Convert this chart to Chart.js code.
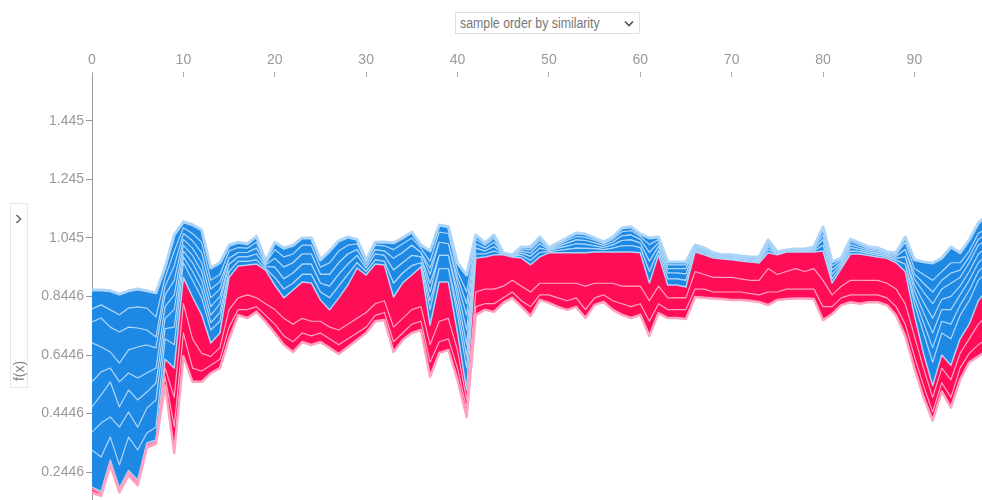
<!DOCTYPE html>
<html>
<head>
<meta charset="utf-8">
<script src="https://cdn.jsdelivr.net/npm/chart.js@4.4.1/dist/chart.umd.min.js"></script>
<style>
  body { margin: 0; background: #fff; }
  #wrap { position: relative; width: 982px; height: 500px; overflow: hidden; }
  #forceChart { position: absolute; left: 0; top: 0; }
  .order-select {
    position: absolute; left: 455px; top: 12px; width: 185px; height: 22px;
    border: 1px solid #e0e0e0; box-sizing: border-box; background: #fff;
    font-family: "Liberation Sans", Arial, sans-serif; font-size: 14px;
    color: #777; line-height: 20px; padding-left: 4px;
  }
  .order-select span { display: inline-block; transform: scaleX(0.88); transform-origin: left center; white-space: nowrap; }
  .order-select svg { position: absolute; right: 5px; top: 7px; }
  .side-panel {
    position: absolute; left: 10px; top: 203px; width: 18px; height: 185px;
    border: 1px solid #e6e6e6; box-sizing: border-box; background: #fff;
  }
  .side-panel svg { position: absolute; left: 4px; top: 10px; }
  .side-panel .fx-label {
    position: absolute; left: -9px; top: 159px; width: 34px; text-align: center;
    transform: rotate(-90deg);
    font-family: "Liberation Sans", Arial, sans-serif; font-size: 14px; color: #888;
  }
</style>
</head>
<body>
<div id="wrap">
  <canvas id="forceChart" width="982" height="500"></canvas>
  <div class="order-select"><span>sample order by similarity</span>
    <svg width="10" height="8" viewBox="0 0 10 8"><polyline points="1,1.5 5,5.5 9,1.5" fill="none" stroke="#555" stroke-width="1.6"/></svg>
  </div>
  <div class="side-panel">
    <svg width="8" height="10" viewBox="0 0 8 10"><polyline points="1.5,1 5.5,5 1.5,9" fill="none" stroke="#666" stroke-width="1.5"/></svg>
    <div class="fx-label">f(x)</div>
  </div>
</div>
<script>
const xTickValues = [0, 10, 20, 30, 40, 50, 60, 70, 80, 90];
const yTickValues = [0.2446, 0.4446, 0.6446, 0.8446, 1.045, 1.245, 1.445];
const yTickLabels = ["0.2446", "0.4446", "0.6446", "0.8446", "1.045", "1.245", "1.445"];

// lowest edge of the red (positive) stack
const redBottom = [
  0.172, 0.163, 0.268, 0.175, 0.233, 0.199, 0.328, 0.341, 0.54, 0.31,
  0.64, 0.553, 0.553, 0.583, 0.60, 0.70, 0.781, 0.771, 0.792, 0.758,
  0.72, 0.679, 0.655, 0.689, 0.679, 0.689, 0.669, 0.648, 0.672, 0.696,
  0.72, 0.76, 0.764, 0.655, 0.696, 0.72, 0.73, 0.57, 0.652, 0.662,
  0.559, 0.433, 0.782, 0.799, 0.792, 0.823, 0.84, 0.809, 0.778, 0.833,
  0.823, 0.809, 0.799, 0.809, 0.771, 0.816, 0.826, 0.799, 0.782, 0.771,
  0.782, 0.71, 0.788, 0.771, 0.771, 0.768, 0.843, 0.84, 0.838, 0.836,
  0.833, 0.833, 0.83, 0.826, 0.815, 0.833, 0.836, 0.838, 0.838, 0.836,
  0.764, 0.785, 0.815, 0.825, 0.82, 0.825, 0.825, 0.815, 0.78, 0.71,
  0.60, 0.50, 0.42, 0.52, 0.465, 0.56, 0.62, 0.64, 0.66
];
const redLine1 = [
  0.178, 0.168, 0.273, 0.180, 0.238, 0.205, 0.333, 0.345, 0.57, 0.40,
  0.72, 0.60, 0.59, 0.61, 0.63, 0.74, 0.80, 0.80, 0.81, 0.78,
  0.75, 0.71, 0.69, 0.72, 0.71, 0.72, 0.70, 0.68, 0.70, 0.72,
  0.74, 0.78, 0.79, 0.69, 0.72, 0.75, 0.76, 0.62, 0.69, 0.70,
  0.60, 0.46, 0.81, 0.82, 0.82, 0.84, 0.86, 0.83, 0.81, 0.85,
  0.85, 0.84, 0.83, 0.84, 0.80, 0.84, 0.85, 0.83, 0.82, 0.81,
  0.82, 0.76, 0.82, 0.80, 0.80, 0.80, 0.87, 0.87, 0.86, 0.86,
  0.86, 0.86, 0.855, 0.85, 0.86, 0.86, 0.87, 0.87, 0.87, 0.87,
  0.81, 0.81, 0.84, 0.85, 0.85, 0.85, 0.85, 0.84, 0.81, 0.75,
  0.64, 0.54, 0.45, 0.55, 0.50, 0.60, 0.65, 0.68, 0.70
];
const redLine2 = [
  0.186, 0.173, 0.279, 0.185, 0.244, 0.211, 0.338, 0.350, 0.60, 0.50,
  0.82, 0.70, 0.65, 0.64, 0.67, 0.80, 0.84, 0.85, 0.84, 0.82,
  0.80, 0.77, 0.75, 0.77, 0.76, 0.76, 0.74, 0.73, 0.75, 0.77,
  0.79, 0.82, 0.83, 0.74, 0.77, 0.80, 0.81, 0.68, 0.76, 0.77,
  0.66, 0.49, 0.86, 0.87, 0.87, 0.88, 0.90, 0.88, 0.86, 0.89,
  0.89, 0.89, 0.89, 0.89, 0.88, 0.89, 0.89, 0.89, 0.88, 0.88,
  0.88, 0.83, 0.88, 0.84, 0.84, 0.84, 0.93, 0.92, 0.91, 0.91,
  0.91, 0.905, 0.90, 0.90, 0.94, 0.92, 0.93, 0.94, 0.93, 0.94,
  0.90, 0.85, 0.88, 0.90, 0.90, 0.90, 0.90, 0.89, 0.87, 0.82,
  0.71, 0.60, 0.50, 0.60, 0.56, 0.65, 0.70, 0.75, 0.78
];
// model output f(x): border between the red and blue stacks
const outputValues = [
  0.193, 0.178, 0.285, 0.190, 0.250, 0.217, 0.344, 0.354, 0.63, 0.60,
  0.91, 0.843, 0.782, 0.686, 0.72, 0.91, 0.949, 0.952, 0.956, 0.935,
  0.884, 0.84, 0.867, 0.894, 0.891, 0.833, 0.799, 0.84, 0.884, 0.942,
  0.918, 0.956, 0.952, 0.843, 0.891, 0.918, 0.946, 0.747, 0.894, 0.894,
  0.72, 0.525, 0.976, 0.98, 0.987, 0.987, 0.98, 0.976, 0.953, 0.98,
  0.994, 0.994, 0.994, 0.994, 0.994, 0.997, 0.997, 0.997, 0.997, 0.997,
  0.994, 0.891, 0.987, 0.884, 0.884, 0.877, 0.997, 0.987, 0.976, 0.973,
  0.97, 0.966, 0.963, 0.959, 0.994, 0.987, 0.997, 0.997, 0.997, 0.997,
  1.0, 0.891, 0.94, 0.99, 0.99, 0.985, 0.98, 0.975, 0.96, 0.93,
  0.78, 0.65, 0.54, 0.645, 0.61, 0.70, 0.75, 0.83, 0.87
];
const blueLine1 = [
  0.320, 0.296, 0.364, 0.269, 0.364, 0.320, 0.378, 0.398, 0.70, 0.68,
  0.96, 0.90, 0.84, 0.73, 0.76, 0.93, 0.965, 0.965, 0.97, 0.94,
  0.91, 0.87, 0.89, 0.92, 0.92, 0.86, 0.84, 0.88, 0.92, 0.96,
  0.93, 0.97, 0.965, 0.89, 0.925, 0.95, 0.96, 0.80, 0.94, 0.94,
  0.78, 0.60, 0.99, 0.99, 1.0, 0.989, 0.982, 0.985, 0.968, 0.995,
  0.998, 1.002, 1.006, 1.01, 1.009, 1.008, 1.005, 1.01, 1.018, 1.019,
  1.012, 0.93, 1.002, 0.905, 0.905, 0.90, 1.001, 0.99, 0.98, 0.976,
  0.973, 0.97, 0.966, 0.963, 1.005, 0.989, 0.998, 0.999, 0.999, 1.0,
  1.02, 0.905, 0.948, 1.0, 0.998, 0.991, 0.986, 0.98, 0.968, 0.955,
  0.82, 0.72, 0.62, 0.72, 0.70, 0.78, 0.83, 0.90, 0.93
];
const blueLine1b = [
  0.381, 0.412, 0.433, 0.398, 0.450, 0.398, 0.463, 0.491, 0.735, 0.74,
  0.98, 0.93, 0.87, 0.755, 0.79, 0.93, 0.965, 0.965, 0.97, 0.94,
  0.91, 0.87, 0.89, 0.92, 0.92, 0.86, 0.84, 0.88, 0.92, 0.96,
  0.93, 0.97, 0.965, 0.89, 0.925, 0.95, 0.96, 0.83, 0.94, 0.94,
  0.81, 0.64, 0.99, 0.99, 1.0, 0.989, 0.982, 0.985, 0.968, 0.995,
  0.998, 1.002, 1.006, 1.01, 1.009, 1.008, 1.005, 1.01, 1.018, 1.019,
  1.012, 0.93, 1.002, 0.905, 0.905, 0.90, 1.001, 0.99, 0.98, 0.976,
  0.973, 0.97, 0.966, 0.963, 1.005, 0.989, 0.998, 0.999, 0.999, 1.0,
  1.02, 0.905, 0.948, 1.0, 0.998, 0.991, 0.986, 0.98, 0.968, 0.955,
  0.842, 0.755, 0.67, 0.76, 0.75, 0.815, 0.865, 0.93, 0.96
];
const blueLine2 = [
  0.467, 0.508, 0.553, 0.467, 0.525, 0.491, 0.518, 0.549, 0.77, 0.80,
  1.00, 0.96, 0.90, 0.78, 0.82, 0.955, 0.98, 0.98, 0.99, 0.947,
  0.945, 0.905, 0.925, 0.955, 0.955, 0.89, 0.88, 0.92, 0.955, 0.985,
  0.942, 0.99, 0.985, 0.935, 0.96, 0.985, 0.98, 0.86, 0.985, 0.985,
  0.84, 0.68, 1.01, 1.0, 1.015, 0.99, 0.983, 0.993, 0.982, 1.01,
  1.002, 1.01, 1.017, 1.025, 1.023, 1.018, 1.012, 1.021, 1.036, 1.038,
  1.027, 0.965, 1.016, 0.925, 0.925, 0.922, 1.005, 0.995, 0.983, 0.978,
  0.976, 0.973, 0.969, 0.967, 1.015, 0.991, 0.999, 1.001, 1.001, 1.004,
  1.04, 0.92, 0.955, 1.012, 1.005, 0.997, 0.992, 0.985, 0.975, 0.98,
  0.865, 0.79, 0.72, 0.80, 0.80, 0.85, 0.90, 0.96, 0.99
];
const blueLine2b = [
  0.553, 0.587, 0.600, 0.553, 0.583, 0.566, 0.583, 0.600, 0.81, 0.85,
  1.02, 0.985, 0.93, 0.81, 0.845, 0.955, 0.98, 0.98, 0.99, 0.947,
  0.945, 0.905, 0.925, 0.955, 0.955, 0.89, 0.88, 0.92, 0.955, 0.985,
  0.942, 0.99, 0.985, 0.935, 0.96, 0.985, 0.98, 0.89, 0.985, 0.985,
  0.865, 0.73, 1.01, 1.0, 1.015, 0.99, 0.983, 0.993, 0.982, 1.01,
  1.002, 1.01, 1.017, 1.025, 1.023, 1.018, 1.012, 1.021, 1.036, 1.038,
  1.027, 0.965, 1.016, 0.925, 0.925, 0.922, 1.005, 0.995, 0.983, 0.978,
  0.976, 0.973, 0.969, 0.967, 1.015, 0.991, 0.999, 1.001, 1.001, 1.004,
  1.04, 0.92, 0.955, 1.012, 1.005, 0.997, 0.992, 0.985, 0.975, 0.98,
  0.885, 0.825, 0.77, 0.835, 0.845, 0.88, 0.93, 0.99, 1.015
];
const blueLine3 = [
  0.686, 0.672, 0.655, 0.617, 0.662, 0.672, 0.679, 0.669, 0.85, 0.90,
  1.04, 1.01, 0.96, 0.84, 0.87, 0.975, 0.995, 0.995, 1.01, 0.953,
  0.975, 0.945, 0.96, 0.99, 0.99, 0.92, 0.92, 0.96, 0.99, 1.005,
  0.952, 1.005, 1.0, 0.975, 0.995, 1.02, 0.995, 0.92, 1.03, 1.025,
  0.89, 0.78, 1.025, 1.01, 1.03, 0.991, 0.985, 1.0, 0.994, 1.025,
  1.005, 1.016, 1.027, 1.038, 1.036, 1.028, 1.019, 1.031, 1.052, 1.055,
  1.04, 0.995, 1.028, 0.94, 0.94, 0.94, 1.01, 1.0, 0.987, 0.981,
  0.979, 0.976, 0.972, 0.971, 1.023, 0.993, 1.0, 1.003, 1.003, 1.008,
  1.055, 0.935, 0.962, 1.022, 1.012, 1.003, 0.998, 0.989, 0.982, 1.005,
  0.905, 0.86, 0.82, 0.87, 0.89, 0.91, 0.96, 1.02, 1.04
];
const blueLine3b = [
  0.758, 0.771, 0.740, 0.723, 0.740, 0.737, 0.730, 0.706, 0.88, 0.95,
  1.06, 1.035, 0.995, 0.87, 0.895, 0.975, 0.995, 0.995, 1.01, 0.953,
  0.975, 0.945, 0.96, 0.99, 0.99, 0.92, 0.92, 0.96, 0.99, 1.005,
  0.952, 1.005, 1.0, 0.975, 0.995, 1.02, 0.995, 0.942, 1.03, 1.025,
  0.91, 0.82, 1.025, 1.01, 1.03, 0.991, 0.985, 1.0, 0.994, 1.025,
  1.005, 1.016, 1.027, 1.038, 1.036, 1.028, 1.019, 1.031, 1.052, 1.055,
  1.04, 0.995, 1.028, 0.94, 0.94, 0.94, 1.01, 1.0, 0.987, 0.981,
  0.979, 0.976, 0.972, 0.971, 1.023, 0.993, 1.0, 1.003, 1.003, 1.008,
  1.055, 0.935, 0.962, 1.022, 1.012, 1.003, 0.998, 0.989, 0.982, 1.005,
  0.922, 0.89, 0.86, 0.90, 0.925, 0.935, 0.98, 1.04, 1.06
];
const blueLine4 = [
  0.802, 0.816, 0.799, 0.782, 0.805, 0.809, 0.805, 0.775, 0.91, 1.00,
  1.08, 1.06, 1.03, 0.90, 0.92, 1.00, 1.012, 1.01, 1.03, 0.958,
  1.005, 0.98, 0.99, 1.02, 1.02, 0.945, 0.96, 1.00, 1.02, 1.025,
  0.962, 1.02, 1.018, 1.005, 1.025, 1.045, 1.01, 0.965, 1.065, 1.06,
  0.93, 0.86, 1.04, 1.02, 1.043, 0.992, 0.986, 1.007, 1.004, 1.037,
  1.008, 1.022, 1.036, 1.05, 1.047, 1.037, 1.025, 1.04, 1.066, 1.07,
  1.05, 1.022, 1.039, 0.953, 0.953, 0.953, 1.015, 1.005, 0.99, 0.984,
  0.983, 0.979, 0.976, 0.975, 1.03, 0.995, 1.002, 1.005, 1.005, 1.011,
  1.07, 0.95, 0.969, 1.032, 1.02, 1.008, 1.004, 0.993, 0.988, 1.03,
  0.94, 0.92, 0.90, 0.93, 0.96, 0.96, 1.00, 1.06, 1.08
];
// highest edge of the blue (negative) stack
const blueTop = [
  0.867, 0.867, 0.864, 0.853, 0.864, 0.870, 0.864, 0.857, 0.945, 1.055,
  1.10, 1.09, 1.072, 0.942, 0.96, 1.02, 1.03, 1.025, 1.05, 0.965,
  1.03, 1.01, 1.02, 1.045, 1.045, 0.97, 1.00, 1.035, 1.048, 1.04,
  0.97, 1.03, 1.031, 1.028, 1.045, 1.065, 1.021, 1.00, 1.089, 1.083,
  0.959, 0.918, 1.055, 1.028, 1.055, 0.994, 0.987, 1.014, 1.014, 1.048,
  1.011, 1.028, 1.045, 1.062, 1.058, 1.045, 1.031, 1.048, 1.079, 1.083,
  1.058, 1.045, 1.048, 0.963, 0.963, 0.963, 1.021, 1.011, 0.994, 0.987,
  0.987, 0.983, 0.98, 0.98, 1.038, 0.997, 1.004, 1.007, 1.007, 1.014,
  1.083, 0.963, 0.976, 1.041, 1.028, 1.014, 1.011, 0.997, 0.994, 1.048,
  0.97, 0.963, 0.959, 0.976, 1.014, 0.994, 1.038, 1.096, 1.123
];

const RED = "#ff0d57";
const BLUE = "#1e88e5";
const RED_LINE = "#ffa3c0";
const BLUE_LINE = "#acd5f8";
const AXIS_GRAY = "#999";
const TICK_FONT = { family: '"Liberation Sans", Arial, sans-serif', size: 14 };

function toPoints(values) {
  return values.map((v, i) => ({ x: i, y: v }));
}

function layer(values, fillColor, lineColor, lineWidth) {
  return {
    data: toPoints(values),
    borderColor: lineColor,
    borderWidth: lineWidth,
    backgroundColor: fillColor,
    fill: fillColor ? "-1" : false,
    pointRadius: 0,
    tension: 0,
    borderJoinStyle: "round",
  };
}

// stacked from the bottom edge upwards, each one filled down to the previous
const datasets = [
  layer(redBottom, null, RED_LINE, 2.5),
  layer(redLine1, RED, RED_LINE, 1.2),
  layer(redLine2, RED, RED_LINE, 1.2),
  layer(outputValues, RED, BLUE_LINE, 1.5),
  layer(blueLine1, BLUE, BLUE_LINE, 1.2),
  layer(blueLine1b, BLUE, BLUE_LINE, 1.2),
  layer(blueLine2, BLUE, BLUE_LINE, 1.2),
  layer(blueLine2b, BLUE, BLUE_LINE, 1.2),
  layer(blueLine3, BLUE, BLUE_LINE, 1.2),
  layer(blueLine3b, BLUE, BLUE_LINE, 1.2),
  layer(blueLine4, BLUE, BLUE_LINE, 1.2),
  layer(blueTop, BLUE, BLUE_LINE, 3),
];

const ctx = document.getElementById("forceChart").getContext("2d");
new Chart(ctx, {
  type: "line",
  data: { datasets: datasets },
  options: {
    responsive: false,
    animation: false,
    devicePixelRatio: 1,
    layout: { padding: 0 },
    plugins: {
      legend: { display: false },
      tooltip: { enabled: false },
    },
    scales: {
      x: {
        type: "linear",
        position: "top",
        min: 0,
        max: 97.4,
        afterBuildTicks: (scale) => {
          scale.ticks = xTickValues.map((v) => ({ value: v }));
        },
        afterFit: (scale) => {
          scale.height = 77;
          scale.paddingLeft = 0;
          scale.paddingRight = 0;
        },
        border: { display: false },
        grid: { drawOnChartArea: false, tickLength: 5, color: "#aaa" },
        ticks: { color: AXIS_GRAY, font: TICK_FONT, padding: 3, maxRotation: 0, autoSkip: false },
      },
      y: {
        type: "linear",
        min: 0.149,
        max: 1.595,
        afterBuildTicks: (scale) => {
          scale.ticks = yTickValues.map((v) => ({ value: v }));
        },
        afterFit: (scale) => {
          scale.width = 92;
          scale.paddingTop = 0;
          scale.paddingBottom = 0;
        },
        border: { display: true, color: AXIS_GRAY, width: 1 },
        grid: { drawOnChartArea: false, tickLength: 6, color: AXIS_GRAY },
        ticks: {
          color: AXIS_GRAY,
          font: TICK_FONT,
          padding: 2,
          autoSkip: false,
          callback: function (value, index) {
            return yTickLabels[index];
          },
        },
      },
    },
  },
});
</script>
</body>
</html>
